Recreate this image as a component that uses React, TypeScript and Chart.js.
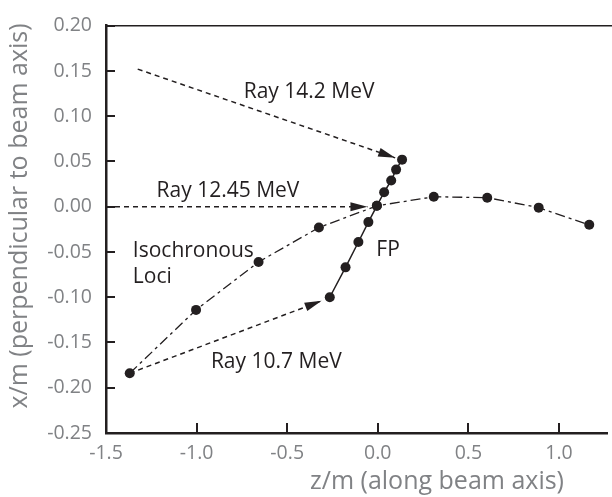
import React, { useEffect, useRef } from 'react';
import { Chart, registerables } from 'chart.js';

Chart.register(...registerables);

// Isochronous loci (z, x in metres)
const isoZ = [-1.369, -1.003, -0.658, -0.325, -0.005, 0.309, 0.604, 0.888, 1.167];
const isoX = [-0.184, -0.114, -0.061, -0.023, 0.001, 0.011, 0.010, -0.001, -0.020];

// Focal plane points
const fpZ = [-0.265, -0.178, -0.107, -0.052, -0.005, 0.035, 0.074, 0.101, 0.134];
const fpX = [-0.100, -0.067, -0.039, -0.017, 0.001, 0.016, 0.029, 0.041, 0.052];

// Rays (start, arrow tip)
const ray142Z = [-1.325, 0.096];
const ray142X = [0.152, 0.054];
const ray1245Z = [-1.5, -0.057];
const ray1245X = [0.0, 0.0];
const ray107Z = [-1.369, -0.31];
const ray107X = [-0.184, -0.104];

// Tick values
const xTicks = [-1.5, -1.0, -0.5, 0.0, 0.5, 1.0];
const yTicks = [-0.25, -0.2, -0.15, -0.1, -0.05, 0.0, 0.05, 0.1, 0.15, 0.2];

// Annotation texts and anchor positions (data coords)
const annTexts = ['Ray 14.2 MeV', 'Ray 12.45 MeV', 'Isochronous', 'Loci', 'FP', 'Ray 10.7 MeV'];
const annZ = [-0.740, -1.221, -1.352, -1.352, -0.008, -0.921];
const annX = [0.120, 0.0108, -0.0553, -0.0846, -0.054, -0.178];

const xTitle = 'z/m (along beam axis)';
const yTitle = 'x/m (perpendicular to beam axis)';

const INK = '#231f20';
const GREY = '#808285';
const FONT = '"Open Sans", sans-serif';

const toPts = (xs: number[], ys: number[]) => xs.map((x, i) => ({ x, y: ys[i] }));

const overlay = {
  id: 'overlay',
  afterDraw(chart: any) {
    const { ctx, chartArea } = chart;
    const xs = chart.scales.x;
    const ys = chart.scales.y;
    ctx.save();
    // arrowheads
    chart.data.datasets.forEach((ds: any, i: number) => {
      if (!ds.arrow) return;
      const pts = chart.getDatasetMeta(i).data;
      const p1 = pts[pts.length - 2];
      const p2 = pts[pts.length - 1];
      const a = Math.atan2(p2.y - p1.y, p2.x - p1.x);
      const L = 17, W = 4.5;
      ctx.fillStyle = INK;
      ctx.beginPath();
      ctx.moveTo(p2.x, p2.y);
      ctx.lineTo(p2.x - L * Math.cos(a) + W * Math.sin(a), p2.y - L * Math.sin(a) - W * Math.cos(a));
      ctx.lineTo(p2.x - L * Math.cos(a) - W * Math.sin(a), p2.y - L * Math.sin(a) + W * Math.cos(a));
      ctx.closePath();
      ctx.fill();
    });
    // top line
    ctx.strokeStyle = INK;
    ctx.lineWidth = 1.5;
    ctx.beginPath();
    ctx.moveTo(chartArea.left, chartArea.top);
    ctx.lineTo(chart.width, chartArea.top);
    ctx.stroke();
    // inward tick marks
    ctx.lineWidth = 2;
    xTicks.forEach((v) => {
      const px = Math.round(xs.getPixelForValue(v));
      ctx.beginPath();
      ctx.moveTo(px, chartArea.bottom);
      ctx.lineTo(px, chartArea.bottom - 10);
      ctx.stroke();
    });
    yTicks.forEach((v) => {
      const py = Math.round(ys.getPixelForValue(v));
      ctx.beginPath();
      ctx.moveTo(chartArea.left, py);
      ctx.lineTo(chartArea.left + 9, py);
      ctx.stroke();
    });
    // annotations
    ctx.fillStyle = INK;
    ctx.font = `21px ${FONT}`;
    ctx.textAlign = 'left';
    ctx.textBaseline = 'alphabetic';
    annTexts.forEach((t, i) => {
      ctx.fillText(t, xs.getPixelForValue(annZ[i]), ys.getPixelForValue(annX[i]));
    });
    // axis titles
    ctx.fillStyle = GREY;
    ctx.font = `25px ${FONT}`;
    ctx.textAlign = 'center';
    ctx.fillText(xTitle, 437, 489);
    ctx.translate(20, 216);
    ctx.rotate(-Math.PI / 2);
    ctx.textBaseline = 'middle';
    ctx.fillText(yTitle, 0, 0);
    ctx.restore();
  },
};

export default function App() {
  const ref = useRef<HTMLCanvasElement>(null);
  useEffect(() => {
    const canvas = ref.current!;
    const lineDs = (label: string, data: any[], dash: number[], extra: any = {}) => ({
      label,
      data,
      showLine: true,
      borderColor: INK,
      backgroundColor: INK,
      borderWidth: 1.5,
      borderDash: dash,
      pointRadius: 0,
      pointBorderWidth: 0,
      pointBackgroundColor: INK,
      ...extra,
    });
    const chart = new Chart(canvas, {
      type: 'scatter',
      data: {
        datasets: [
          lineDs('FP', toPts(fpZ, fpX), [], { pointRadius: 5 }),
          lineDs('Isochronous Loci', toPts(isoZ, isoX), [10, 4, 3, 4], { pointRadius: 5, borderWidth: 1.3 }),
          lineDs('Ray 14.2 MeV', toPts(ray142Z, ray142X), [5, 4], { arrow: true }),
          lineDs('Ray 12.45 MeV', toPts(ray1245Z, ray1245X), [5, 4], { arrow: true }),
          lineDs('Ray 10.7 MeV', toPts(ray107Z, ray107X), [5, 4], { arrow: true }),
        ] as any,
      },
      options: {
        responsive: false,
        animation: false,
        layout: { padding: { top: 18, right: 0, left: 0, bottom: 0 } },
        plugins: { legend: { display: false }, tooltip: { enabled: false } },
        scales: {
          x: {
            type: 'linear',
            min: -1.5,
            max: 1.265,
            grid: { display: false, drawTicks: false },
            border: { display: true, color: INK, width: 2.5 },
            ticks: {
              font: { family: FONT, size: 19.5 },
              color: GREY,
              padding: 9,
              callback: (v: any) => Number(v).toFixed(1),
            },
            afterBuildTicks: (s: any) => {
              s.ticks = xTicks.map((v) => ({ value: v }));
            },
            afterFit: (s: any) => {
              s.height = 64;
            },
          },
          y: {
            type: 'linear',
            min: -0.25,
            max: 0.2,
            grid: { display: false, drawTicks: false },
            border: { display: true, color: INK, width: 2.5 },
            ticks: {
              font: { family: FONT, size: 19.5 },
              color: GREY,
              padding: 14,
              callback: (v: any) => Number(v).toFixed(2),
            },
            afterBuildTicks: (s: any) => {
              s.ticks = yTicks.map((v) => ({ value: v }));
            },
            afterFit: (s: any) => {
              s.width = 106;
            },
          },
        },
      } as any,
      plugins: [overlay],
    });
    return () => chart.destroy();
  }, []);
  return (
    <canvas
      ref={ref}
      width={612}
      height={497}
      style={{ position: 'fixed', left: 0, top: 0, width: 612, height: 497 }}
    />
  );
}
